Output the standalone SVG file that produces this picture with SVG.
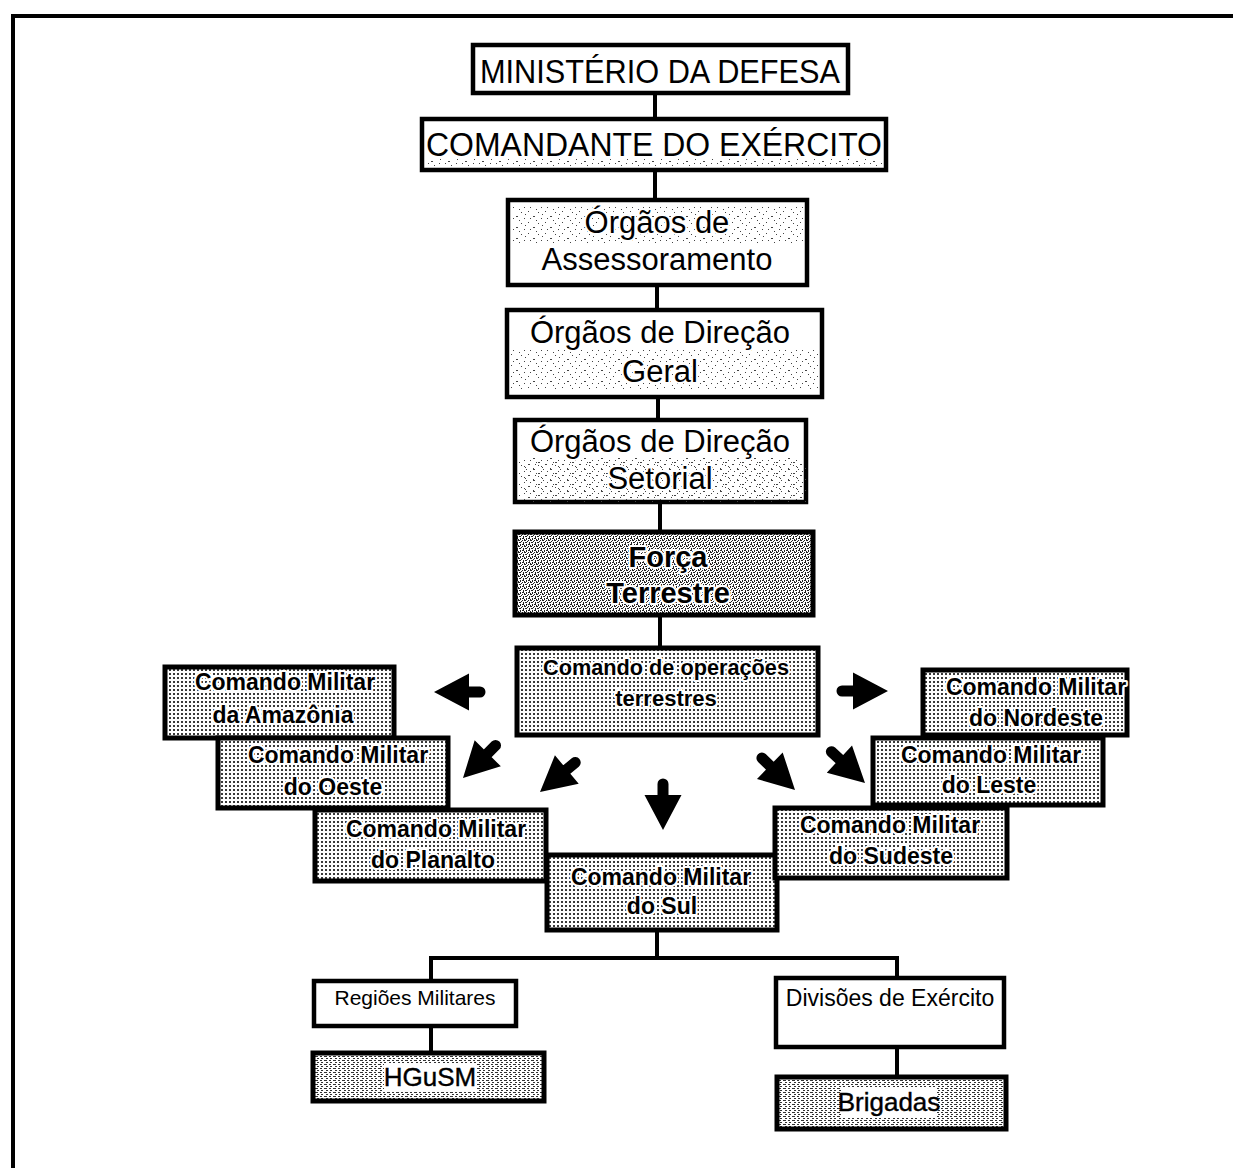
<svg xmlns="http://www.w3.org/2000/svg" xmlns:xlink="http://www.w3.org/1999/xlink" width="1233" height="1168" viewBox="0 0 1233 1168">
<defs>
<style>
.box{stroke:#000;stroke-width:4.5;fill:#fff}
.bx5{stroke:#000;stroke-width:5}
.t{font-family:"Liberation Sans",Arial,sans-serif;fill:#000;text-anchor:middle}
.h{stroke:#fff;stroke-width:4;stroke-linejoin:round;paint-order:stroke}
.big{font-size:31px}
.cm{font-size:23px;font-weight:bold}
.sm{font-size:21px}
.ln{stroke:#000;stroke-width:4;fill:none}
</style>
<pattern id="pGrid" width="4" height="4" patternUnits="userSpaceOnUse">
<rect width="4" height="4" fill="#fff"/>
<rect x="1" y="1" width="2" height="2" fill="#3a3a3a"/>
</pattern>
<pattern id="pDense" width="6" height="6" patternUnits="userSpaceOnUse">
<rect width="6" height="6" fill="#fff"/>
<rect x="0" y="0" width="1" height="1" fill="#222"/><rect x="2" y="0" width="2" height="1" fill="#222"/>
<rect x="5" y="1" width="1" height="1" fill="#222"/><rect x="1" y="2" width="1" height="2" fill="#222"/>
<rect x="3" y="2" width="2" height="1" fill="#222"/><rect x="4" y="4" width="1" height="2" fill="#222"/>
<rect x="0" y="4" width="2" height="1" fill="#222"/><rect x="2" y="5" width="1" height="1" fill="#222"/>
</pattern>
<pattern id="pLight" width="17" height="11" patternUnits="userSpaceOnUse">
<rect x="1" y="2" width="1" height="1" fill="#444"/><rect x="6" y="7" width="2" height="1" fill="#444"/>
<rect x="11" y="3" width="1" height="1" fill="#444"/><rect x="14" y="9" width="1" height="1" fill="#444"/>
<rect x="3" y="9" width="1" height="1" fill="#444"/><rect x="9" y="0" width="1" height="1" fill="#444"/>
<rect x="15" y="5" width="1" height="1" fill="#444"/>
</pattern>
<pattern id="pStreak" width="9" height="4" patternUnits="userSpaceOnUse">
<rect width="9" height="4" fill="#fff"/>
<rect x="0" y="0" width="3" height="1" fill="#333"/><rect x="5" y="0" width="2" height="1" fill="#333"/>
<rect x="2" y="2" width="2" height="1" fill="#333"/><rect x="6" y="2" width="2" height="1" fill="#333"/>
</pattern>
<path id="arr" d="M0 0 L-35 -18.5 L-35 18.5 Z M-31 -5.5 H-46 A5.5 5.5 0 0 0 -46 5.5 H-31 Z" fill="#000"/>
</defs>
<rect width="1233" height="1168" fill="#fff"/>
<path d="M13 1168 V16 H1233" fill="none" stroke="#000" stroke-width="4"/>

<g id="connectors">
<path class="ln" d="M655 93 V119"/>
<path class="ln" d="M655 170 V200"/>
<path class="ln" d="M657 285 V310"/>
<path class="ln" d="M658 397 V420"/>
<path class="ln" d="M660 502 V532"/>
<path class="ln" d="M660 615 V648"/>
<path class="ln" d="M657 930 V958"/>
<path class="ln" d="M431 981 V958 H897 V978"/>
<path class="ln" d="M431 1026 V1053"/>
<path class="ln" d="M897 1047 V1077"/>
<use xlink:href="#arr" transform="translate(434 692) rotate(180)"/>
<use xlink:href="#arr" transform="translate(888 691)"/>
<use xlink:href="#arr" transform="translate(463 778) rotate(135)"/>
<use xlink:href="#arr" transform="translate(540 792) rotate(140)"/>
<use xlink:href="#arr" transform="translate(663 830) rotate(90)"/>
<use xlink:href="#arr" transform="translate(795 790) rotate(44)"/>
<use xlink:href="#arr" transform="translate(865 783) rotate(43)"/>
</g>

<g id="ministerio">
<rect class="box" x="473" y="45" width="375" height="48"/>
<text class="t" x="660" y="83" font-size="33" textLength="360" lengthAdjust="spacingAndGlyphs">MINISTÉRIO DA DEFESA</text>
</g>
<g id="comandante">
<rect class="box" x="422" y="119" width="464" height="51"/>
<rect x="426" y="158" width="456" height="8" fill="url(#pLight)"/>
<text class="t" x="654" y="156" font-size="34" textLength="456" lengthAdjust="spacingAndGlyphs">COMANDANTE DO EXÉRCITO</text>
</g>
<g id="assessoramento">
<rect class="box" x="508" y="200" width="299" height="85"/>
<rect x="512" y="206" width="291" height="38" fill="url(#pLight)"/>
<text class="t big h" x="657" y="233">Órgãos de</text>
<text class="t big h" x="657" y="270">Assessoramento</text>
</g>
<g id="direcao-geral">
<rect class="box" x="507" y="310" width="315" height="87"/>
<rect x="511" y="350" width="307" height="40" fill="url(#pLight)"/>
<text class="t big h" x="660" y="343">Órgãos de Direção</text>
<text class="t big h" x="660" y="382">Geral</text>
</g>
<g id="direcao-setorial">
<rect class="box" x="515" y="420" width="291" height="82"/>
<rect x="519" y="458" width="283" height="40" fill="url(#pLight)"/>
<rect x="519" y="458" width="283" height="40" fill="url(#pLight)" transform="translate(5 4)"/>
<text class="t big h" x="660" y="452">Órgãos de Direção</text>
<text class="t big h" x="660" y="489">Setorial</text>
</g>
<g id="forca-terrestre">
<rect class="bx5" x="515" y="532" width="298" height="83" fill="url(#pDense)"/>
<text class="t h" x="668" y="567" font-size="29" font-weight="bold">Força</text>
<text class="t h" x="668" y="603" font-size="29" font-weight="bold">Terrestre</text>
</g>
<g id="cot">
<rect class="bx5" x="517" y="648" width="301" height="87" fill="url(#pGrid)"/>
<text class="t h" x="666" y="675" font-size="22" font-weight="bold" textLength="246" lengthAdjust="spacingAndGlyphs">Comando de operações</text>
<text class="t h" x="666" y="706" font-size="22" font-weight="bold">terrestres</text>
</g>
<g id="cm-amazonia">
<rect class="bx5" x="165" y="667" width="229" height="71" fill="url(#pGrid)"/>
<text class="t cm h" x="285" y="690">Comando Militar</text>
<text class="t cm h" x="283" y="723">da Amazônia</text>
</g>
<g id="cm-oeste">
<rect class="bx5" x="218" y="738" width="230" height="70" fill="url(#pGrid)"/>
<text class="t cm h" x="338" y="763">Comando Militar</text>
<text class="t cm h" x="333" y="795">do Oeste</text>
</g>
<g id="cm-planalto">
<rect class="bx5" x="315" y="810" width="231" height="71" fill="url(#pGrid)"/>
<text class="t cm h" x="436" y="837">Comando Militar</text>
<text class="t cm h" x="433" y="868">do Planalto</text>
</g>
<g id="cm-sul">
<rect class="bx5" x="547" y="855" width="230" height="75" fill="url(#pGrid)"/>
<text class="t cm h" x="661" y="885">Comando Militar</text>
<text class="t cm h" x="662" y="914">do Sul</text>
</g>
<g id="cm-sudeste">
<rect class="bx5" x="775" y="808" width="232" height="70" fill="url(#pGrid)"/>
<text class="t cm h" x="890" y="833">Comando Militar</text>
<text class="t cm h" x="891" y="864">do Sudeste</text>
</g>
<g id="cm-leste">
<rect class="bx5" x="873" y="738" width="230" height="67" fill="url(#pGrid)"/>
<text class="t cm h" x="991" y="763">Comando Militar</text>
<text class="t cm h" x="989" y="793">do Leste</text>
</g>
<g id="cm-nordeste">
<rect class="bx5" x="923" y="670" width="204" height="65" fill="url(#pGrid)"/>
<text class="t cm h" x="1036" y="695">Comando Militar</text>
<text class="t cm h" x="1036" y="726">do Nordeste</text>
</g>
<g id="regioes">
<rect class="box" x="314" y="981" width="202" height="45"/>
<text class="t sm" x="415" y="1005">Regiões Militares</text>
</g>
<g id="hgusm">
<rect class="bx5" x="313" y="1053" width="231" height="48" fill="url(#pStreak)"/>
<rect x="384" y="1064" width="92" height="27" fill="#fff"/>
<text class="t" x="430" y="1086" font-size="26" stroke="#000" stroke-width="0.4">HGuSM</text>
</g>
<g id="divisoes">
<rect class="box" x="776" y="978" width="228" height="69"/>
<text class="t" x="890" y="1006" font-size="23">Divisões de Exército</text>
</g>
<g id="brigadas">
<rect class="bx5" x="777" y="1077" width="229" height="52" fill="url(#pStreak)"/>
<rect x="842" y="1088" width="95" height="30" fill="#fff"/>
<text class="t" x="889" y="1111" font-size="26" stroke="#000" stroke-width="0.4">Brigadas</text>
</g>
</svg>
